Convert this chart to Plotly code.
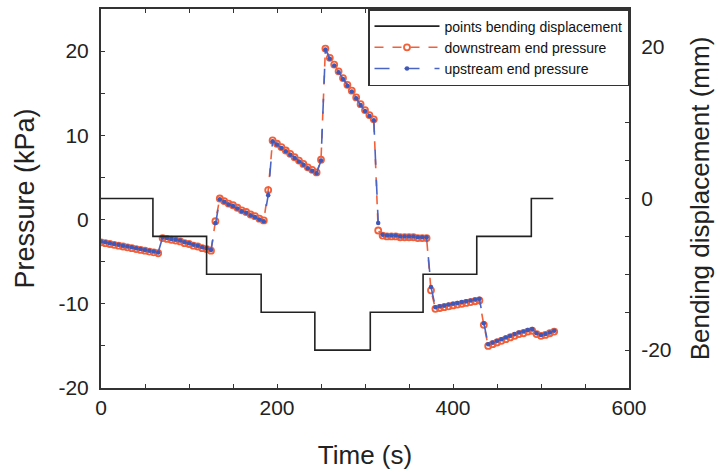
import plotly.graph_objects as go

# ---- data ----
time_s = [0, 5, 10, 15, 20, 25, 30, 35, 40, 45, 50, 55, 60, 65, 70, 75, 80, 85, 90, 95,
          100, 105, 110, 115, 120, 125, 130, 135, 140, 145, 150, 155, 160, 165, 170, 175,
          180, 185, 190, 195, 200, 205, 210, 215, 220, 225, 230, 235, 240, 245, 250, 255,
          260, 265, 270, 275, 280, 285, 290, 295, 300, 305, 310, 315, 320, 325, 330, 335,
          340, 345, 350, 355, 360, 365, 370, 375, 380, 385, 390, 395, 400, 405, 410, 415,
          420, 425, 430, 435, 440, 445, 450, 455, 460, 465, 470, 475, 480, 485, 490, 495,
          500, 505, 510, 515]

upstream = [-2.6, -2.7, -2.8, -2.9, -3.0, -3.1, -3.2, -3.3, -3.4, -3.5, -3.6, -3.7, -3.8, -3.9,
            -2.1, -2.2, -2.3, -2.4, -2.5, -2.7, -2.8, -3.0, -3.1, -3.3, -3.4, -3.6,
            -0.4, 2.4, 2.1, 1.8, 1.6, 1.3, 1.0, 0.8, 0.5, 0.3, 0.0, -0.2,
            2.9, 9.3, 8.9, 8.5, 8.1, 7.7, 7.3, 6.9, 6.5, 6.1, 5.8, 5.5,
            7.0, 20.2, 19.1, 18.3, 17.5, 16.7, 15.9, 15.2, 14.4, 13.6, 12.9, 12.3, 11.8,
            -0.4, -1.8, -1.9, -1.9, -1.9, -2.0, -2.0, -2.0, -2.0, -2.1, -2.1, -2.1,
            -8.0, -10.4, -10.3, -10.2, -10.1, -10.0, -9.9, -9.8, -9.7, -9.6, -9.5, -9.4,
            -12.3, -14.8, -14.6, -14.4, -14.2, -14.0, -13.8, -13.6, -13.4, -13.3, -13.1, -13.0,
            -13.5, -13.7, -13.6, -13.4, -13.2]

downstream = [-2.7, -2.8, -2.9, -3.0, -3.1, -3.2, -3.3, -3.4, -3.5, -3.6, -3.7, -3.8, -3.9, -4.0,
              -2.2, -2.3, -2.4, -2.5, -2.6, -2.8, -2.9, -3.1, -3.2, -3.4, -3.5, -3.7,
              -0.2, 2.5, 2.2, 1.9, 1.7, 1.4, 1.1, 0.9, 0.6, 0.4, 0.1, -0.1,
              3.5, 9.4, 9.0, 8.6, 8.2, 7.8, 7.4, 7.0, 6.6, 6.2, 5.9, 5.6,
              7.1, 20.3, 19.2, 18.4, 17.6, 16.8, 16.0, 15.3, 14.5, 13.7, 13.0, 12.4, 11.9,
              -1.3, -1.9, -2.0, -2.0, -2.0, -2.1, -2.1, -2.1, -2.1, -2.2, -2.2, -2.2,
              -8.4, -10.6, -10.5, -10.4, -10.3, -10.2, -10.1, -10.0, -9.9, -9.8, -9.7, -9.6,
              -12.5, -15.0, -14.8, -14.6, -14.4, -14.2, -14.0, -13.8, -13.6, -13.5, -13.3, -13.2,
              -13.6, -13.8, -13.7, -13.5, -13.3]

disp_time = [0, 59, 120, 182, 243, 306, 366, 427, 489, 514]
displacement = [0, -5, -10, -15, -20, -15, -10, -5, 0, 0]

x_ticks = [0, 200, 400, 600]
x_labels = ["0", "200", "400", "600"]
y_ticks = [-20, -10, 0, 10, 20]
y_labels = ["-20", "-10", "0", "10", "20"]
y2_ticks = [-20, 0, 20]
y2_labels = ["-20", "0", "20"]

FONT = "Liberation Sans, Arial, Helvetica, sans-serif"
AX = "#333333"

fig = go.Figure()
fig.add_trace(go.Scatter(
    x=disp_time, y=displacement, yaxis="y2", mode="lines", line_shape="hv",
    line=dict(color="#222222", width=1.6), name="points bending displacement"))
fig.add_trace(go.Scatter(
    x=time_s, y=downstream, mode="lines+markers",
    line=dict(color="#f2603a", width=1.6, dash="dash"),
    marker=dict(symbol="circle-open", size=6, color="#f2603a", line=dict(width=1.8)),
    name="downstream end pressure"))
fig.add_trace(go.Scatter(
    x=time_s, y=upstream, mode="lines+markers",
    line=dict(color="#4a64c4", width=1.6, dash="longdash"),
    marker=dict(symbol="circle", size=4.5, color="#3f58b8"),
    name="upstream end pressure"))

common = dict(showline=True, linecolor=AX, linewidth=2, ticks="inside", ticklen=4,
              tickcolor=AX, tickwidth=1, showgrid=False, zeroline=False,
              tickfont=dict(size=21, color="#222", family=FONT))

fig.update_layout(
    width=728, height=472,
    margin=dict(l=101, r=99, t=7, b=84),
    paper_bgcolor="white", plot_bgcolor="white",
    font=dict(family=FONT, color="#222"),
    showlegend=True,
    legend=dict(x=1, y=1, xanchor="right", yanchor="top", bgcolor="white",
                bordercolor=AX, borderwidth=1.5,
                font=dict(size=14, color="#111", weight=500),
                tracegroupgap=0, itemwidth=65),
    xaxis=dict(range=[0, 600], tickvals=x_ticks, ticktext=x_labels, mirror="ticks",
               minor=dict(dtick=50, ticks="inside", ticklen=4, tickcolor=AX),
               title=dict(text="Time (s)", font=dict(size=26), standoff=28),
               **common),
    yaxis=dict(range=[-20, 25], tickvals=y_ticks, ticktext=y_labels, ticklabelstandoff=6,
               minor=dict(dtick=5, ticks="inside", ticklen=4, tickcolor=AX),
               title=dict(text="Pressure (kPa)", font=dict(size=27), standoff=16),
               **common),
    yaxis2=dict(range=[-25, 25], tickvals=y2_ticks, ticktext=y2_labels, overlaying="y",
                side="right", anchor="x", ticklabelstandoff=6,
                minor=dict(dtick=5, ticks="inside", ticklen=4, tickcolor=AX),
                title=dict(text="Bending displacement (mm)", font=dict(size=26), standoff=20),
                **common),
)

fig.write_html("out.html")
